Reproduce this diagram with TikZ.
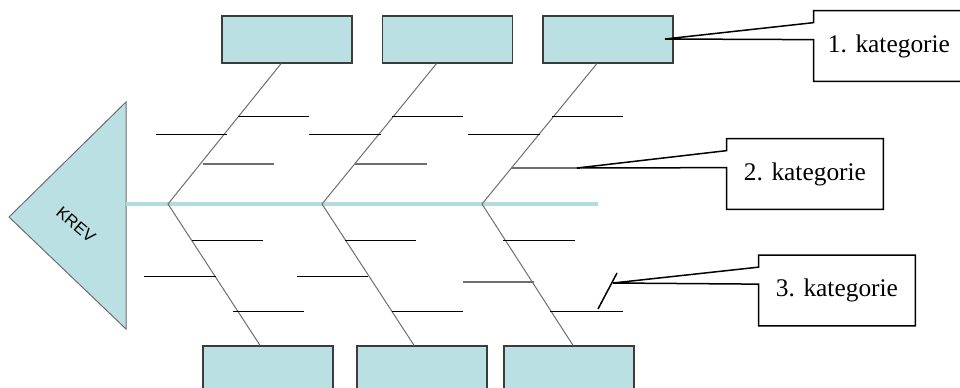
\documentclass[tikz,border=0pt]{standalone}
\usepackage{fontspec}
\setmainfont{Liberation Serif}
\newfontfamily\krevfont{Liberation Sans}
\usetikzlibrary{positioning,calc}
\definecolor{FishTeal}{HTML}{BBE0E3}
\definecolor{FishSpine}{HTML}{B2DCE0}
\definecolor{FishEdge}{HTML}{3C3C3C}
\definecolor{FishBone}{HTML}{6E6E6E}
\tikzset{
  causebox/.style={
    draw=FishEdge,
    fill=FishTeal,
    line width=0.7pt,
    minimum width=65pt,
    minimum height=23.5pt,
    inner sep=0pt
  },
  labelbox/.style={
    minimum width=78pt,
    minimum height=35pt,
    inner sep=0pt,
    font=\fontsize{12.7}{15}\selectfont
  },
  bone/.style={draw=FishBone,line width=0.5pt},
  rib/.style={draw=black,line width=0.5pt},
  greyrib/.style={draw=FishBone,line width=0.6pt},
  calloutline/.style={draw=black,line width=0.75pt}
}
\newcommand{\calloutframe}[2]{%
  \draw[calloutline] (#1.north west) -- ($(#1.north west)!0.17!(#1.south west)$) -- (#2)
    -- ($(#1.north west)!0.41!(#1.south west)$) -- (#1.south west) -- (#1.south east)
    -- (#1.north east) -- cycle;}

\begin{document}
\begin{tikzpicture}[x=0.5pt,y=-0.5pt,node distance=14.5pt]
  \useasboundingbox (0,0) rectangle (960,387);
  \clip (0,0) rectangle (960,387);
  % head and spine
  \draw[draw=FishBone,fill=FishTeal,line width=0.5pt] (9,217) -- (126,102) -- (126,329) -- cycle;
  \node[rotate=-40,font=\krevfont\fontsize{8.3}{10}\selectfont] (krev) at (76,225) {KREV};
  \coordinate (head) at (126,204);
  \coordinate (tail) at (598,204);
  \draw[draw=FishSpine,line width=2pt] (head) -- (tail);
  \coordinate (j1) at (168,204);
  \coordinate (j2) at (322,204);
  \coordinate (j3) at (482,204);
  % cause boxes
  \node[causebox] (t1) at (287,39.5) {};
  \node[causebox,right=of t1] (t2) {};
  \node[causebox,right=of t2] (t3) {};
  \node[causebox] (b1) at (268,369.5) {};
  \node[causebox] (b2) at (422,369.5) {};
  \node[causebox] (b3) at (569,369.5) {};
  % bones
  \foreach \j/\t/\ts/\b/\bs in {j1/t1/-3/b1/-4,j2/t2/-5.5/b2/-4,j3/t3/-5.5/b3/2}
    \draw[bone] ([xshift=\ts pt]\t.south) -- (\j) -- ([xshift=\bs pt]\b.north);
  % ribs
  \foreach \y/\xa/\xb in {116/238/309,116/392/463,116/552/623,
                          134/156/227,134/309/381,134/468/540,
                          240/192/263,240/345/416,240/503/575,
                          276/144/216,276/297/368,
                          311/233/304,311/392/463,311/550/623}
    \draw[rib] (\xa,\y) -- (\xb,\y);
  \foreach \y/\xa/\xb in {164/203/274,164/355/427,168/511/580,282/463/534}
    \draw[greyrib] (\xa,\y) -- (\xb,\y);
  % callouts
  \coordinate (tip1) at (665,39);
  \coordinate (tip2) at (577,168);
  \coordinate (tip3) at (613,283);
  \node[labelbox,minimum width=75pt] (cat1) at (889,46) {1. kategorie};
  \node[labelbox] (cat2) at (805,174) {2. kategorie};
  \node[labelbox] (cat3) at (837,290.5) {3. kategorie};
  \calloutframe{cat1}{tip1}
  \calloutframe{cat2}{tip2}
  \calloutframe{cat3}{tip3}
  \draw[calloutline] (598,309) -- (617,273);
\end{tikzpicture}
\end{document}
